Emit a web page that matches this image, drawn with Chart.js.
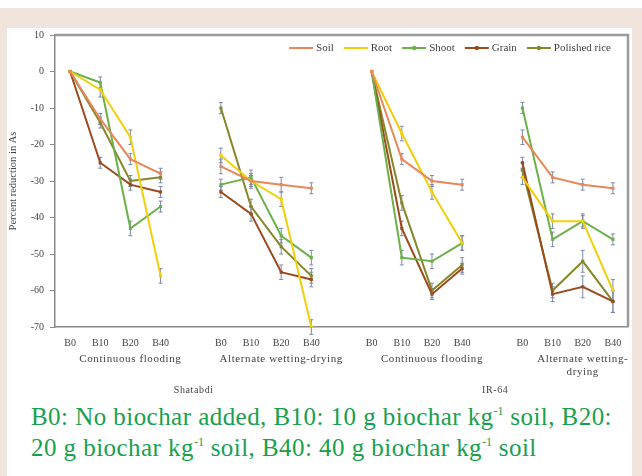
<!DOCTYPE html>
<html>
<head>
<meta charset="utf-8">
<script src="https://cdn.jsdelivr.net/npm/chart.js@4.4.1/dist/chart.umd.min.js"></script>
<style>
  html, body { margin: 0; padding: 0; }
  body { width: 642px; height: 476px; background: #f0e4dc; position: relative; overflow: hidden; font-family: "Liberation Serif", serif; }
  #topstrip { position: absolute; left: 0; top: 0; width: 642px; height: 8px; background: #fff; }
  #panel { position: absolute; left: 7px; top: 28px; width: 625px; height: 448px; background: #fff; }
  #wrap { position: absolute; left: 0; top: 0; width: 625px; height: 372px; }
  #note { position: absolute; left: 24px; top: 373px; width: 610px; color: #17a04e; font-size: 25px; line-height: 31px; letter-spacing: 0.45px; white-space: nowrap; }
  #note sup { font-size: 12px; vertical-align: 10px; line-height: 0; letter-spacing: 0; }
</style>
</head>
<body>
<div id="topstrip"></div>
<div id="panel">
  <div id="wrap"><canvas id="chart"></canvas></div>
  <div id="note">B0: No biochar added, B10: 10 g biochar kg<sup>-1</sup> soil, B20:<br>20 g biochar kg<sup>-1</sup> soil, B40: 40 g biochar kg<sup>-1</sup> soil</div>
</div>
<script>
// data (percent reduction in As)
const treatments = ["B0", "B10", "B20", "B40"];
const practices = [["Continuous flooding"], ["Alternate wetting-drying"], ["Continuous flooding"], ["Alternate wetting-", "drying"]];
const varieties = ["Shatabdi", "IR-64"];

const soil     = [0, -13, -24, -28,  -26, -30, -31, -32,  0, -24, -30, -31,  -18, -29, -31, -32];
const root     = [0,  -5, -18, -56,  -23, -30, -35, -70,  0, -17, -33, -47,  -29, -41, -41, -60];
const shoot    = [0,  -3, -43, -37,  -31, -29, -45, -51,  0, -51, -52, -47,  -10, -46, -41, -46];
const grain    = [0, -25, -31, -33,  -33, -39, -55, -57,  0, -43, -61, -54,  -25, -61, -59, -63];
const polished = [0, -14, -30, -29,  -10, -37, -48, -56,  0, -36, -60, -53,  -27, -60, -52, -63];

const soilErr     = [0, 1.5, 1.5, 1.5,  2, 1.5, 2, 1.5,  0, 1.5, 1.5, 1.5,  2, 1.5, 1.5, 1.5];
const rootErr     = [0, 2, 2, 2,  2, 2, 2, 2,  0, 2, 2, 2,  2, 2, 2, 3];
const shootErr    = [0, 1.5, 2, 1.5,  1.5, 2, 2, 2,  0, 2, 2, 2,  1.5, 2, 1.5, 1.5];
const grainErr    = [0, 1.5, 1.5, 1.5,  1.5, 2, 2, 2,  0, 2, 1.5, 1.5,  1.5, 2, 3, 3];
const polishedErr = [0, 1.5, 1.5, 1.5,  1.5, 2, 2, 2,  0, 2, 2, 2,  2, 2, 3, 3];

const yTicks = [10, 0, -10, -20, -30, -40, -50, -60, -70];

// 4 groups of 4 with an empty slot between groups
function spread(arr, fill) {
  const out = [];
  for (let g = 0; g < practices.length; g++) {
    if (g > 0) out.push(fill);
    for (let i = 0; i < treatments.length; i++) out.push(arr[g * treatments.length + i]);
  }
  return out;
}
const labels = spread(practices.flatMap(() => treatments), "");

const series = [
  { label: "Soil", data: soil, err: soilErr, color: "#e8875a", marker: false },
  { label: "Root", data: root, err: rootErr, color: "#f2cf0a", marker: false },
  { label: "Shoot", data: shoot, err: shootErr, color: "#6cb04a", marker: true },
  { label: "Grain", data: grain, err: grainErr, color: "#9b4a1c", marker: true },
  { label: "Polished rice", data: polished, err: polishedErr, color: "#86862a", marker: true }
];

const tickFont = { family: "Liberation Serif", size: 10 };

const errorBars = {
  id: "errorBars",
  beforeDatasetsDraw(chart) {
    const { ctx, scales: { x, y } } = chart;
    ctx.save();
    ctx.strokeStyle = "#7d8aa6";
    ctx.lineWidth = 1;
    series.forEach((s) => {
      const vals = spread(s.data, null), errs = spread(s.err, null);
      vals.forEach((v, i) => {
        if (v === null || !errs[i]) return;
        const px = x.getPixelForValue(i);
        const top = y.getPixelForValue(v + errs[i]), bot = y.getPixelForValue(v - errs[i]);
        ctx.beginPath();
        ctx.moveTo(px, top); ctx.lineTo(px, bot);
        ctx.moveTo(px - 2, top); ctx.lineTo(px + 2, top);
        ctx.moveTo(px - 2, bot); ctx.lineTo(px + 2, bot);
        ctx.stroke();
      });
    });
    ctx.restore();
  }
};

const frameAndText = {
  id: "frameAndText",
  afterDraw(chart) {
    const { ctx, chartArea: a, scales: { x } } = chart;
    ctx.save();
    // plot box
    ctx.strokeStyle = "#9a9a9a";
    ctx.lineWidth = 2.5;
    ctx.beginPath();
    ctx.moveTo(a.left, a.top); ctx.lineTo(a.right, a.top); ctx.lineTo(a.right, a.bottom);
    ctx.stroke();

    // group captions (they sit roughly under B20 in the original)
    ctx.fillStyle = "#444";
    ctx.font = "11px 'Liberation Serif'";
    ctx.letterSpacing = "0.6px";
    ctx.textAlign = "center";
    ctx.textBaseline = "middle";
    const per = treatments.length + 1;
    practices.forEach((lines, g) => {
      const cx = x.getPixelForValue(g * per + 2);
      lines.forEach((t, k) => ctx.fillText(t, cx, a.bottom + 32 + k * 13));
    });
    ctx.font = "10px 'Liberation Serif'";
    varieties.forEach((v, k) => {
      ctx.fillText(v, x.getPixelForValue(2 * k * per + 4) + 3, a.bottom + 63);
    });

    // legend inside the plot, top right
    ctx.font = "11px 'Liberation Serif'";
    ctx.letterSpacing = "0px";
    ctx.textAlign = "left";
    const sw = 24, gap = 3, space = 10;
    const widths = series.map((s) => sw + gap + ctx.measureText(s.label).width);
    const total = widths.reduce((p, c) => p + c, 0) + space * (series.length - 1);
    let lx = a.right - 17 - total;
    const ly = a.top + 13;
    series.forEach((s, i) => {
      ctx.strokeStyle = s.color;
      ctx.lineWidth = 2;
      ctx.beginPath(); ctx.moveTo(lx, ly); ctx.lineTo(lx + sw, ly); ctx.stroke();
      if (s.marker) {
        ctx.fillStyle = s.color;
        ctx.beginPath(); ctx.arc(lx + sw / 2, ly, 2.2, 0, Math.PI * 2); ctx.fill();
      }
      ctx.fillStyle = "#444";
      ctx.fillText(s.label, lx + sw + gap, ly);
      lx += widths[i] + space;
    });
    ctx.restore();
  }
};

new Chart(document.getElementById("chart"), {
  type: "line",
  data: {
    labels: labels,
    datasets: series.map((s) => ({
      label: s.label,
      data: spread(s.data, null),
      borderColor: s.color,
      backgroundColor: s.color,
      borderWidth: 2,
      pointRadius: 2.2,
      pointStyle: "rect",
      pointBorderWidth: 0,
      spanGaps: false,
      tension: 0
    }))
  },
  options: {
    responsive: true,
    maintainAspectRatio: false,
    animation: false,
    layout: { padding: { top: 7, right: 4, left: 0, bottom: 0 } },
    plugins: { legend: { display: false }, tooltip: { enabled: false } },
    scales: {
      x: {
        type: "category",
        offset: true,
        afterFit: (scale) => { scale.height = 73; },
        grid: { display: false, drawOnChartArea: false },
        border: { display: true, color: "#8a8a8a", width: 1.5 },
        ticks: { color: "#444", font: tickFont, padding: 2, autoSkip: false, maxRotation: 0 }
      },
      y: {
        min: -70,
        max: 10,
        afterFit: (scale) => { scale.width = 48; scale.paddingTop = 0; scale.paddingBottom = 0; },
        afterBuildTicks: (scale) => { scale.ticks = yTicks.map((v) => ({ value: v })); },
        grid: { drawOnChartArea: false, tickLength: 5, color: "#8a8a8a" },
        border: { display: true, color: "#8a8a8a", width: 1.5 },
        ticks: { color: "#444", font: tickFont, padding: 6 },
        title: { display: true, text: "Percent reduction in As", color: "#444", font: { family: "Liberation Serif", size: 10.5 }, padding: { top: 0, bottom: 2 } }
      }
    }
  },
  plugins: [errorBars, frameAndText]
});
</script>
</body>
</html>
